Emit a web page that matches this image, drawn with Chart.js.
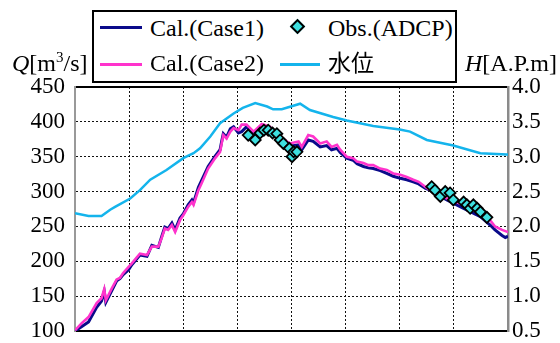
<!DOCTYPE html>
<html>
<head>
<meta charset="utf-8">
<script src="https://cdn.jsdelivr.net/npm/chart.js@4"></script>
<style>
  html, body { margin:0; padding:0; background:#fff; }
  #wrap { position:relative; width:560px; height:343px; font-family:"Liberation Serif", Tinos, "Times New Roman", "DejaVu Serif", serif; color:#000; }
  #c { position:absolute; left:0; top:0; }
  .t { position:absolute; font-size:24px; line-height:24px; white-space:nowrap; }
  .cjk { font-family:"Noto Sans CJK JP", sans-serif; font-size:23px; }
  #legbox { position:absolute; left:92px; top:10px; width:365px; height:73px; border:2px solid #000; box-sizing:border-box; background:#fff; }
  .ln { position:absolute; height:3px; }
  .dia { position:absolute; width:7px; height:7px; background:#3DE0E0; border:2px solid #000; transform:rotate(45deg); }
</style>
</head>
<body>
<div id="wrap">
  <canvas id="c" width="560" height="343"></canvas>
  <div id="legbox"></div>
  <div class="ln" style="left:100px;top:26px;width:42px;background:#0A0A8A;"></div>
  <div class="t" style="left:150px;top:16px;">Cal.(Case1)</div>
  <div class="dia" style="left:292px;top:21px;"></div>
  <div class="t" style="left:328px;top:16px;">Obs.(ADCP)</div>
  <div class="ln" style="left:100px;top:63px;width:42px;background:#FF33CC;"></div>
  <div class="t" style="left:150px;top:51px;">Cal.(Case2)</div>
  <div class="ln" style="left:280px;top:63px;width:40px;background:#14B4EC;height:2.5px;"></div>
  <div class="t cjk" style="left:328px;top:49px;">水位</div>
  <div class="t" style="left:12px;top:51px;"><i>Q</i>[m<sup style="font-size:15px;vertical-align:9px;line-height:0;">3</sup>/s]</div>
  <div class="t" style="right:3px;top:51px;"><i>H</i>[A.P.m]</div>
</div>
<script>
// ---- data (x in grid divisions along the time axis, 0..8) ----
const case1T = [0,0.12,0.25,0.40,0.49,0.54,0.57,0.68,0.77,0.83,0.89,0.99,1.05,1.20,1.33,1.42,1.54,1.60,1.66,1.72,1.79,1.85,1.94,2.00,2.09,2.16,2.19,2.28,2.34,2.46,2.59,2.68,2.71,2.74,2.80,2.87,2.93,3.02,3.08,3.17,3.30,3.45,3.60,3.79,3.97,4.13,4.19,4.31,4.40,4.53,4.65,4.74,4.84,4.90,5.02,5.14,5.21,5.33,5.42,5.51,5.64,5.76,5.88,6.01,6.13,6.25,6.35,6.47,6.56,6.87,7.18,7.49,7.67,7.76,7.89,7.95,8.0];
const case1Q = [100,106,113,134,143,157,141,158,172,175,181,188,195,209,207,223,220,235,249,247,255,245,262,268,281,288,284,306,316,336,351,360,372,383,378,390,393,384,386,393,381,391,388,376,365,367,360,374,372,364,366,360,362,356,348,345,340,336,334,333,330,326,322,319,317,314,311,305,302,288,276,264,252,245,237,234,236];

const case2T = [0,0.12,0.25,0.40,0.49,0.54,0.57,0.68,0.77,0.83,0.89,0.99,1.05,1.20,1.33,1.42,1.54,1.60,1.66,1.72,1.79,1.85,1.94,2.00,2.09,2.16,2.19,2.28,2.34,2.46,2.59,2.68,2.71,2.74,2.80,2.87,2.93,3.02,3.08,3.17,3.30,3.45,3.60,3.79,3.97,4.13,4.19,4.31,4.40,4.53,4.65,4.74,4.84,4.90,5.02,5.14,5.21,5.33,5.42,5.51,5.64,5.76,5.88,6.01,6.13,6.25,6.35,6.47,6.56,6.87,7.18,7.49,7.67,7.76,7.89,8.0];
const case2Q = [101,111,120,140,147,160,144,161,174,176,183,192,197,211,209,221,221,233,247,245,252,242,259,266,278,285,281,302,312,333,348,357,369,381,376,386,391,388,396,396,386,397,393,379,369,372,364,381,379,369,372,364,367,360,350,348,343,341,338,338,333,331,326,324,321,317,314,307,302,290,281,269,259,250,245,242];

const obsT = [3.20,3.33,3.42,3.49,3.57,3.65,3.73,3.79,3.85,3.96,4.01,4.04,4.10,6.59,6.65,6.75,6.84,6.93,6.99,7.18,7.24,7.30,7.36,7.43,7.49,7.61];
const obsQ = [381,374,384,388,388,384,383,374,369,362,350,357,357,307,302,293,300,298,288,285,281,276,281,276,271,263];

const levelT = [0,0.25,0.49,0.65,0.74,1.02,1.20,1.39,1.69,2.00,2.19,2.31,2.50,2.68,2.93,3.10,3.33,3.55,3.66,3.82,4.16,4.34,4.77,5.02,5.51,6.00,6.19,6.50,6.99,7.49,7.98,8.0];
const levelH = [2.19,2.15,2.15,2.24,2.28,2.40,2.52,2.67,2.81,2.98,3.05,3.12,3.29,3.48,3.62,3.70,3.77,3.72,3.68,3.68,3.76,3.67,3.57,3.52,3.44,3.39,3.36,3.24,3.16,3.05,3.03,3.03];

const qTicks = [100,150,200,250,300,350,400,450];
const hTicks = [0.5,1.0,1.5,2.0,2.5,3.0,3.5,4.0];

const pts = (xs, ys) => xs.map((x, i) => ({x: x, y: ys[i]}));
const FONT = {family: '"Liberation Serif", Tinos, "Times New Roman", "DejaVu Serif", serif', size: 23};

new Chart(document.getElementById('c'), {
  type: 'line',
  data: {
    datasets: [
      {label:'Obs.(ADCP)', data: pts(obsT, obsQ), yAxisID:'y', showLine:false,
       pointStyle:'rectRot', pointRadius:5.5, pointBackgroundColor:'#3DE0E0', pointBorderColor:'#000', pointBorderWidth:1.8, order:0},
      {label:'Cal.(Case2)', data: pts(case2T, case2Q), yAxisID:'y', borderColor:'#FF33CC', borderWidth:2.6, pointRadius:0, order:1},
      {label:'Cal.(Case1)', data: pts(case1T, case1Q), yAxisID:'y', borderColor:'#0A0A8A', borderWidth:3, pointRadius:0, order:2},
      {label:'水位', data: pts(levelT, levelH), yAxisID:'y2', borderColor:'#14B4EC', borderWidth:2.5, pointRadius:0, order:3}
    ]
  },
  options: {
    responsive:false, animation:false, events:[],
    layout:{padding:{top:87, bottom:12, left:0, right:0}},
    plugins:{legend:{display:false}, tooltip:{enabled:false}},
    scales:{
      x:{type:'linear', position:'bottom', min:0, max:8,
         ticks:{display:false, stepSize:1},
         grid:{display:true, drawTicks:false, color:'#111', lineWidth:1},
         border:{display:true, color:'#000', width:2, dash:[2,2]},
         afterFit:(s)=>{ s.height = 0; s.paddingLeft = 0; s.paddingRight = 0; }},
      x2:{type:'linear', position:'top', min:0, max:8,
         ticks:{display:false}, grid:{display:false, drawTicks:false},
         border:{display:true, color:'#000', width:2},
         afterFit:(s)=>{ s.height = 0; s.paddingLeft = 0; s.paddingRight = 0; }},
      y:{type:'linear', position:'left', min:100, max:450,
         afterBuildTicks:(s)=>{ s.ticks = qTicks.map(v=>({value:v})); },
         ticks:{color:'#000', font:FONT, padding:10, callback:(v)=>String(v)},
         grid:{drawTicks:false, color:'#111', lineWidth:1},
         border:{display:true, color:'#999', width:2, dash:[2,2]},
         afterFit:(s)=>{ s.width = 75; s.paddingTop = 0; s.paddingBottom = 0; }},
      y2:{type:'linear', position:'right', min:0.5, max:4.0,
         afterBuildTicks:(s)=>{ s.ticks = hTicks.map(v=>({value:v})); },
         ticks:{color:'#000', font:FONT, padding:4, callback:(v)=>Number(v).toFixed(1)},
         grid:{drawOnChartArea:false, drawTicks:false},
         border:{display:true, color:'#8a8a8a', width:2.5},
         afterFit:(s)=>{ s.width = 52; s.paddingTop = 0; s.paddingBottom = 0; }}
    }
  }
});
</script>
</body>
</html>
